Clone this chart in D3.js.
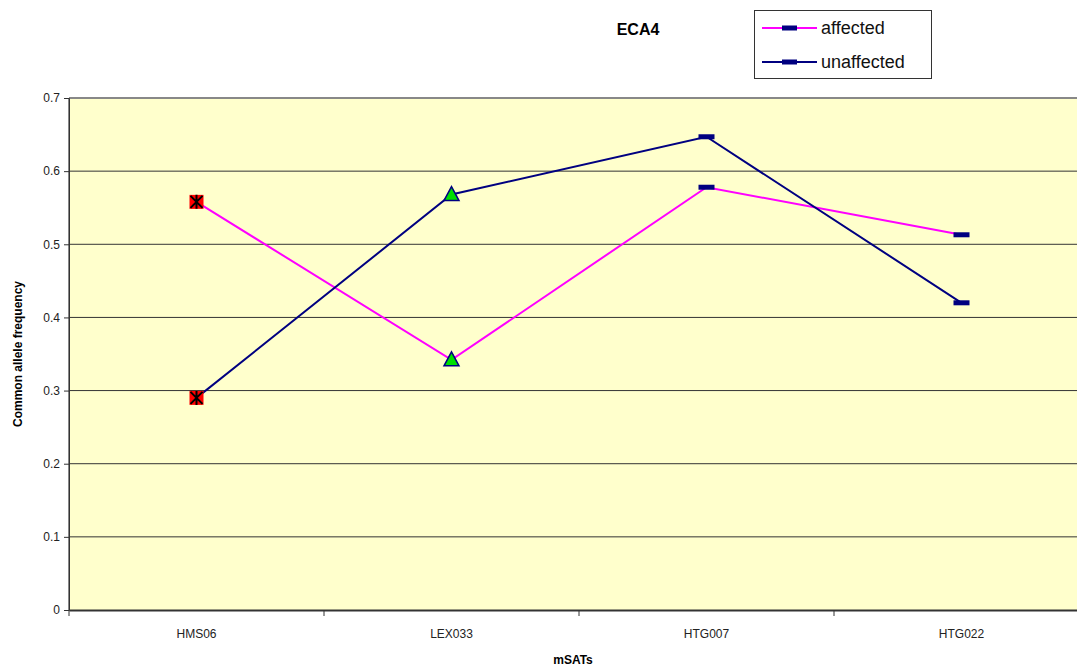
<!DOCTYPE html>
<html>
<head>
<meta charset="utf-8">
<script src="https://cdn.jsdelivr.net/npm/d3@7"></script>
<style>
  body { margin: 0; background: #fff; overflow: hidden; }
  svg { display: block; font-family: Arial, "Liberation Sans", sans-serif; }
</style>
</head>
<body>
<div id="chart"></div>
<script>
const categories = ["HMS06", "LEX033", "HTG007", "HTG022"];
const affected = [0.558, 0.342, 0.578, 0.513];
const unaffected = [0.29, 0.568, 0.647, 0.42];
const yTicks = [0, 0.1, 0.2, 0.3, 0.4, 0.5, 0.6, 0.7];
const markerTypes = ["xsquare", "triangle", "dash", "dash"];

const width = 1077;
const height = 670;
const margin = { top: 98, left: 69, bottom: 60 };
const plotRight = 1089;

const svg = d3.select("#chart")
  .append("svg")
  .attr("width", width)
  .attr("height", height);

const x = d3.scaleBand()
  .domain(categories)
  .range([margin.left, plotRight]);

const y = d3.scaleLinear()
  .domain([0, 0.7])
  .range([height - margin.bottom, margin.top]);

// plot background
svg.append("rect")
  .attr("x", margin.left)
  .attr("y", margin.top)
  .attr("width", plotRight - margin.left)
  .attr("height", y(0) - margin.top)
  .attr("fill", "#ffffcc");

// gridlines
svg.append("g")
  .selectAll("line")
  .data(yTicks.filter((d) => d > 0 && d < 0.7))
  .join("line")
  .attr("x1", margin.left)
  .attr("x2", plotRight)
  .attr("y1", (d) => y(d))
  .attr("y2", (d) => y(d))
  .attr("stroke", "#333")
  .attr("stroke-width", 1);

// gray top/left frame
svg.append("line")
  .attr("x1", margin.left).attr("x2", plotRight)
  .attr("y1", margin.top).attr("y2", margin.top)
  .attr("stroke", "#888").attr("stroke-width", 2);
svg.append("line")
  .attr("x1", margin.left).attr("x2", margin.left)
  .attr("y1", margin.top).attr("y2", y(0))
  .attr("stroke", "#888").attr("stroke-width", 2);

// y axis
const yAxis = svg.append("g")
  .attr("transform", `translate(${margin.left},0)`)
  .call(d3.axisLeft(y).tickValues(yTicks).tickSize(5).tickFormat(d3.format("")));
yAxis.select(".domain").attr("stroke", "#333");
yAxis.selectAll(".tick line").attr("stroke", "#333");
yAxis.selectAll(".tick text")
  .attr("font-size", "12px")
  .attr("fill", "#222")
  .attr("x", -9);

// x axis
const xAxis = svg.append("g")
  .attr("transform", `translate(0,${y(0)})`)
  .call(d3.axisBottom(x).tickSize(0).tickSizeOuter(0));
xAxis.select(".domain").attr("stroke", "#333").attr("stroke-width", 2);
xAxis.selectAll(".tick text")
  .attr("font-size", "12px")
  .attr("fill", "#222")
  .attr("y", 19);
svg.append("g")
  .selectAll("line")
  .data(categories)
  .join("line")
  .attr("x1", (d) => x(d))
  .attr("x2", (d) => x(d))
  .attr("y1", y(0))
  .attr("y2", y(0) + 6)
  .attr("stroke", "#333");

// axis titles
svg.append("text")
  .attr("x", 573)
  .attr("y", 664)
  .attr("text-anchor", "middle")
  .attr("font-size", "12px")
  .attr("font-weight", "bold")
  .text("mSATs");

svg.append("text")
  .attr("transform", `translate(22,${(margin.top + y(0)) / 2}) rotate(-90)`)
  .attr("text-anchor", "middle")
  .attr("font-size", "12px")
  .attr("font-weight", "bold")
  .text("Common allele frequency");

// title
svg.append("text")
  .attr("x", 638)
  .attr("y", 35)
  .attr("text-anchor", "middle")
  .attr("font-size", "16px")
  .attr("font-weight", "bold")
  .text("ECA4");

const cx = (c) => x(c) + x.bandwidth() / 2;

const line = d3.line()
  .x((d, i) => cx(categories[i]))
  .y((d) => y(d));

const series = [
  { name: "affected", values: affected, color: "#ff00ff" },
  { name: "unaffected", values: unaffected, color: "#000080" },
];

series.forEach((s) => {
  svg.append("path")
    .datum(s.values)
    .attr("fill", "none")
    .attr("stroke", s.color)
    .attr("stroke-width", 2)
    .attr("d", line);
});

function drawMarker(g, type, px, py) {
  if (type === "xsquare") {
    g.append("rect")
      .attr("x", px - 7).attr("y", py - 7)
      .attr("width", 14).attr("height", 14)
      .attr("fill", "#ff0000");
    g.append("path")
      .attr("d", `M${px - 6},${py - 6}L${px + 6},${py + 6}M${px + 6},${py - 6}L${px - 6},${py + 6}M${px},${py - 7}L${px},${py + 7}`)
      .attr("stroke", "#000")
      .attr("stroke-width", 2);
  } else if (type === "triangle") {
    g.append("path")
      .attr("d", `M${px},${py - 8}L${px + 7.5},${py + 6}L${px - 7.5},${py + 6}Z`)
      .attr("fill", "#00e000")
      .attr("stroke", "#000080")
      .attr("stroke-width", 1.5);
  } else {
    g.append("rect")
      .attr("x", px - 8).attr("y", py - 2.5)
      .attr("width", 16).attr("height", 5)
      .attr("fill", "#000080");
  }
}

series.forEach((s) => {
  const g = svg.append("g");
  s.values.forEach((v, i) => {
    drawMarker(g, markerTypes[i], cx(categories[i]), y(v));
  });
});

// legend
const legend = svg.append("g");
legend.append("rect")
  .attr("x", 754.5).attr("y", 10.5)
  .attr("width", 177).attr("height", 68)
  .attr("fill", "#fff")
  .attr("stroke", "#333");
series.forEach((s, i) => {
  const ly = 28 + i * 34;
  legend.append("line")
    .attr("x1", 762).attr("x2", 817)
    .attr("y1", ly).attr("y2", ly)
    .attr("stroke", s.color).attr("stroke-width", 2);
  legend.append("rect")
    .attr("x", 782).attr("y", ly - 2.5)
    .attr("width", 15).attr("height", 5)
    .attr("fill", "#000080");
  legend.append("text")
    .attr("x", 821).attr("y", ly + 6)
    .attr("font-size", "18px")
    .attr("fill", "#111")
    .text(s.name);
});
</script>
</body>
</html>
